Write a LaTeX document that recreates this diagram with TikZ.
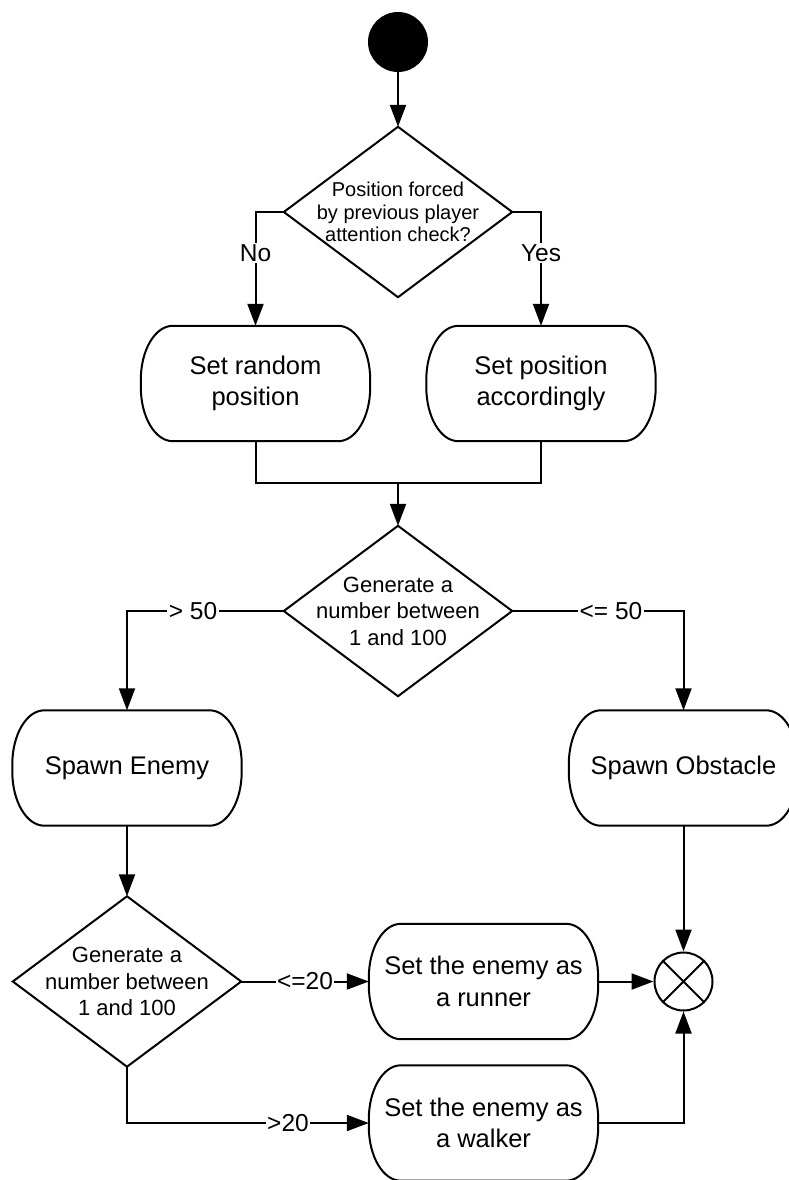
\documentclass[tikz,border=0pt]{standalone}
\usepackage{fontspec}
\setmainfont{Liberation Sans}
\usetikzlibrary{arrows.meta}
\newcommand{\actshape}[1]{\draw[line] ([xshift=32pt]#1.north west) -- ([xshift=-32pt]#1.north east) arc[start angle=90,end angle=0,x radius=32pt,y radius=54pt] -- ([yshift=54pt]#1.south east) arc[start angle=0,end angle=-90,x radius=32pt,y radius=54pt] -- ([xshift=32pt]#1.south west) arc[start angle=-90,end angle=-180,x radius=32pt,y radius=54pt] -- ([yshift=-54pt]#1.north west) arc[start angle=180,end angle=90,x radius=32pt,y radius=54pt] -- cycle;}
\newcommand{\decshape}[1]{\draw[line] (#1.north) -- (#1.east) -- (#1.south) -- (#1.west) -- cycle;}
\begin{document}
\begin{tikzpicture}[x=1pt,y=-1pt,
 line/.style={line width=2pt, line join=miter},
 arr/.style={line, -{Triangle[length=22pt,width=16pt]}},
 actbox/.style={minimum width=229pt, minimum height=115pt, inner sep=0pt, align=center, font=\fontsize{25.5}{31.5}\selectfont},
 decbox/.style={minimum width=228pt, minimum height=170pt, inner sep=0pt, align=center},
 lbl/.style={fill=white, inner sep=1.5pt, font=\fontsize{24.5}{28}\selectfont},
]
\useasboundingbox (0,0) rectangle (788,1180);
\fill[white] (0,0) rectangle (788,1180);

\node[circle, fill=black, minimum size=60pt, inner sep=0pt] (start) at (398,42) {};
\node[decbox, font=\fontsize{20}{22.5}\selectfont] (d1) at (398,212) {Position forced\\by previous player\\attention check?};
\node[actbox] (b1) at (255.5,383.5) {Set random\\position};
\node[actbox] (b2) at (541,383.5) {Set position\\accordingly};
\coordinate (m) at (398,483);
\node[decbox, font=\fontsize{22}{26.5}\selectfont] (d2) at (398,611) {Generate a\\number between\\1 and 100};
\node[actbox] (b3) at (127,768) {Spawn Enemy};
\node[actbox] (b4) at (683.5,768) {Spawn Obstacle};
\node[decbox, font=\fontsize{22}{26.5}\selectfont] (d3) at (127,981.5) {Generate a\\number between\\1 and 100};
\node[actbox] (b5) at (483.5,981.5) {Set the enemy as\\a runner};
\node[actbox] (b6) at (483.5,1123) {Set the enemy as\\a walker};
\node[circle, draw, line width=2pt, minimum size=58pt, inner sep=0pt] (end) at (683.5,981.5) {};

\decshape{d1}\decshape{d2}\decshape{d3}
\actshape{b1}\actshape{b2}\actshape{b3}\actshape{b4}\actshape{b5}\actshape{b6}
\draw[line] (end.north west) -- (end.south east) (end.north east) -- (end.south west);

\draw[arr] (start) -- (d1.north);
\draw[arr] (d1.west) -| (b1.north);
\node[lbl] (lno) at (255.5,253) {No};
\draw[arr] (d1.east) -| (b2.north);
\node[lbl] (lyes) at (541,253) {Yes};
\draw[line] (b1.south) |- (m) -| (b2.south);
\draw[arr] (m) -- (d2.north);
\draw[arr] (d2.west) -| (b3.north);
\node[lbl] (lgt50) at (193,611) {> 50};
\draw[arr] (d2.east) -| (b4.north);
\node[lbl] (lle50) at (611,611) {<= 50};
\draw[arr] (b3.south) -- (d3.north);
\draw[arr] (d3.east) -- (b5.west);
\node[lbl] (lle20) at (305,981.5) {<=20};
\draw[arr] (d3.south) |- (b6.west);
\node[lbl] (lgt20) at (288,1123) {>20};
\draw[arr] (b5.east) -- (end.west);
\draw[arr] (b4.south) -- (end.north);
\draw[arr] (b6.east) -| (end.south);
\end{tikzpicture}
\end{document}
